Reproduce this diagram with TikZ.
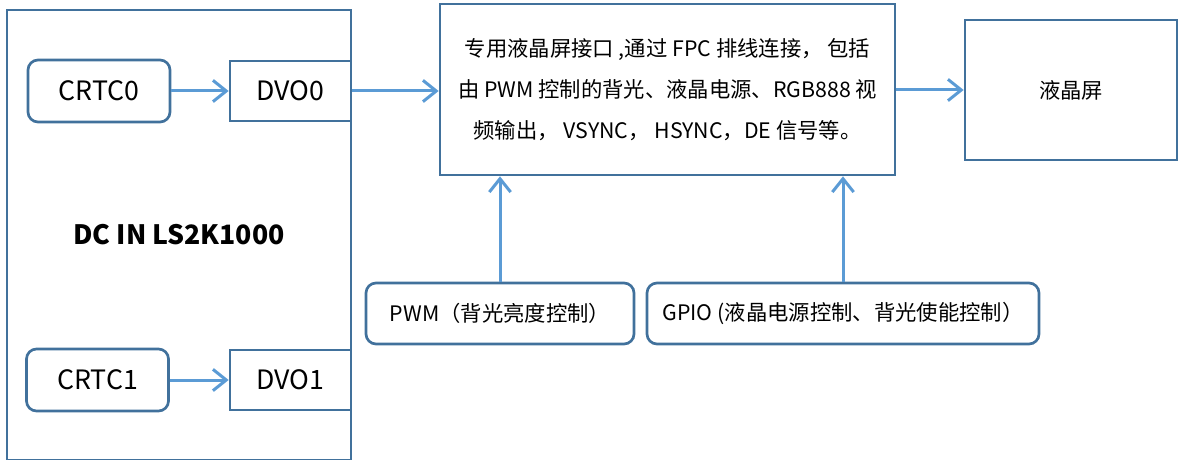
\documentclass[tikz,border=0pt]{standalone}
\usepackage{fontspec}
\setmainfont{Noto Sans CJK SC}
\usetikzlibrary{arrows.meta}

\definecolor{boxline}{RGB}{65,113,156}
\definecolor{arrowblue}{RGB}{91,155,213}
\newcommand{\blockfont}{\fontsize{20pt}{24pt}\selectfont}
\newcommand{\notefont}{\fontsize{16pt}{30.75pt}\selectfont}

\tikzset{
  blockbox/.style={draw=boxline, line width=2pt, inner sep=0pt, align=center},
  roundbox/.style={blockbox, rounded corners=7.5pt},
  flowarrow/.style={draw=arrowblue, line width=2.25pt, -{Straight Barb[length=10pt,width=16pt]}},
}

\begin{document}
\begin{tikzpicture}[x=0.75pt,y=0.75pt,yscale=-1,xscale=1]
\useasboundingbox (0,0) rectangle (1178,460);

%Shape: Rectangle [DC in LS2K1000]
\node [blockbox, minimum width=258pt, minimum height=337.5pt, font=\blockfont\bfseries] (dc) at (179,235) {DC IN LS2K1000};
%Shape: Rounded Rectangle [CRTC0]
\node [roundbox, minimum width=106.5pt, minimum height=46.5pt, font=\blockfont] (crtc0) at (99,91) {CRTC0};
%Shape: Rectangle [DVO0]
\node [blockbox, minimum width=90.75pt, minimum height=45pt, font=\blockfont] (dvo0) at (290.5,91) {DVO0};
%Shape: Rounded Rectangle [CRTC1]
\node [roundbox, minimum width=106.5pt, minimum height=46.5pt, font=\blockfont] (crtc1) at (97.5,380) {CRTC1};
%Shape: Rectangle [DVO1]
\node [blockbox, minimum width=90.75pt, minimum height=45pt, font=\blockfont] (dvo1) at (290.5,380) {DVO1};

%Shape: Rectangle [LCD interface]
\node [blockbox, minimum width=341.25pt, minimum height=128.25pt, font=\notefont] (lcdif) at (667.5,89.5)
  {专用液晶屏接口 ,通过 FPC 排线连接， 包括\\
   由 PWM 控制的背光、液晶电源、RGB888 视\\
   频输出， VSYNC， HSYNC，DE 信号等。};
%Shape: Rectangle [LCD]
\node [blockbox, minimum width=159pt, minimum height=105pt, font=\notefont] (lcd) at (1071,90) {液晶屏};

%Shape: Rounded Rectangle [PWM]
\node [roundbox, minimum width=201pt, minimum height=45.75pt, font=\notefont] (pwm) at (500,313.5) {PWM（背光亮度控制）};
%Shape: Rounded Rectangle [GPIO]
\node [roundbox, minimum width=294pt, minimum height=45.75pt, font=\notefont] (gpio) at (843,313.5) {GPIO (液晶电源控制、背光使能控制）};

%Straight Lines
\draw [flowarrow] (crtc0) -- (dvo0);
\draw [flowarrow] (crtc1) -- (dvo1);
\draw [flowarrow] (dvo0) -- (dvo0 -| lcdif.west);
\draw [flowarrow] (lcdif.east |- lcd) -- (lcd);
\draw [flowarrow] (pwm) -- (pwm |- lcdif.south);
\draw [flowarrow] (gpio) -- (gpio |- lcdif.south);
\end{tikzpicture}
\end{document}
